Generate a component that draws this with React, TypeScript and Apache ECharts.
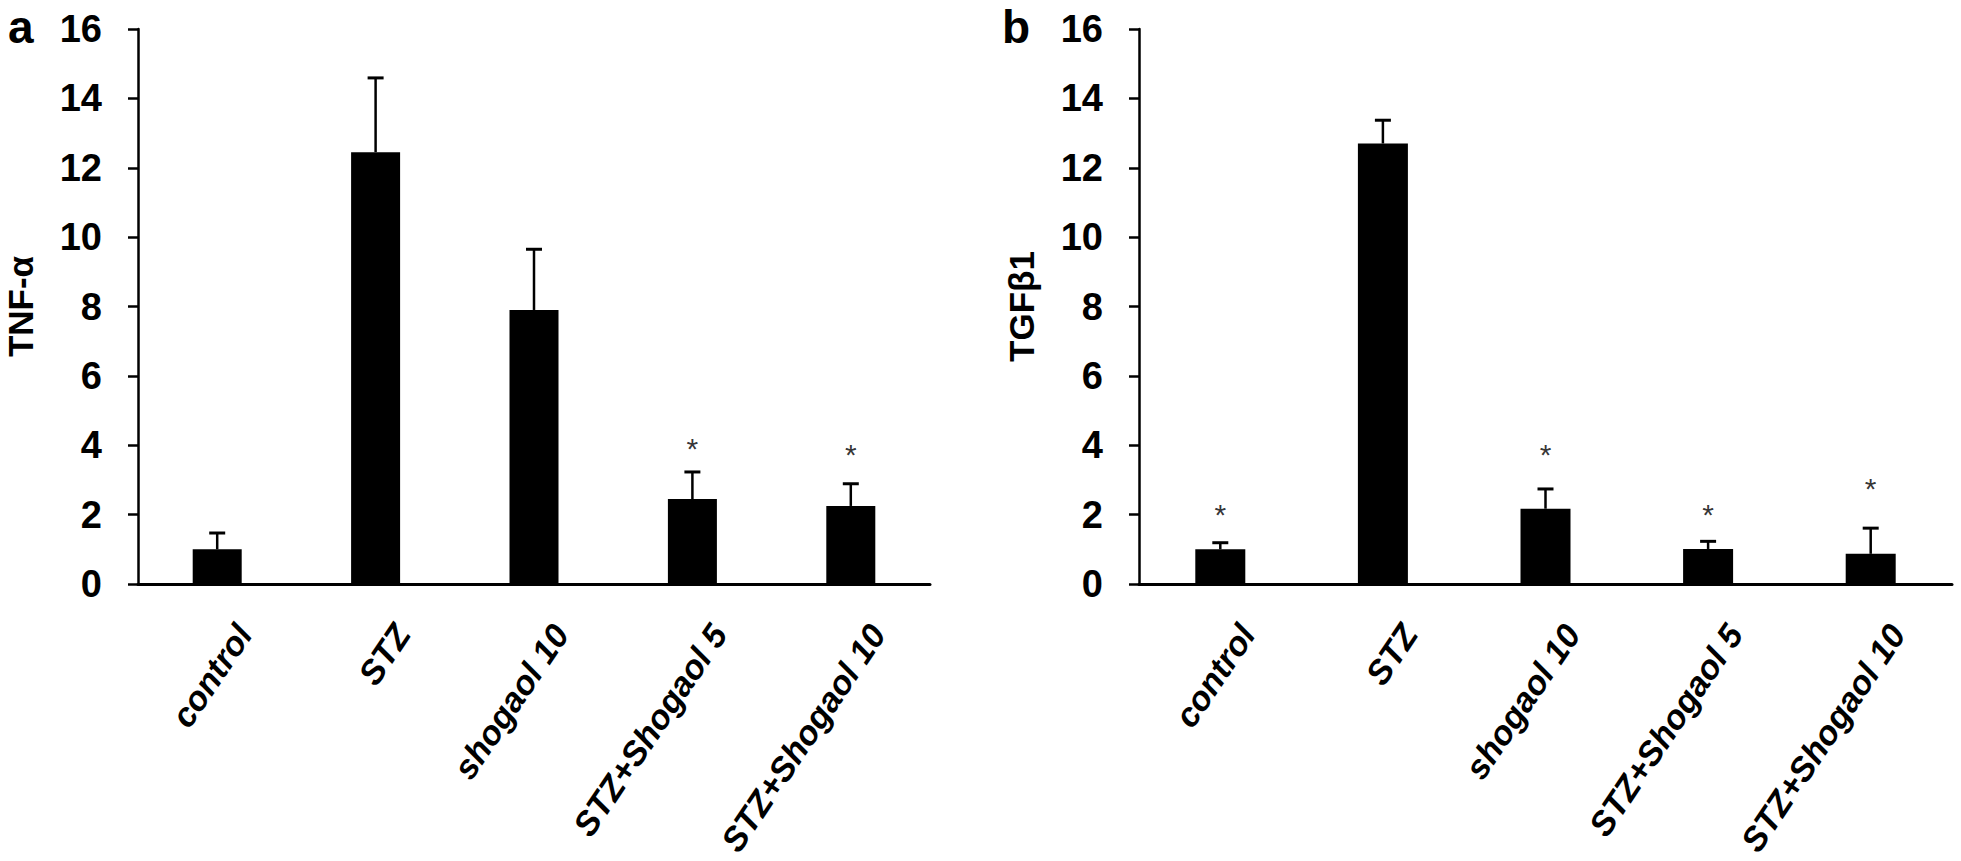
import React, { useEffect, useRef } from "react";
import * as echarts from "echarts";

const categories = ["control", "STZ", "shogaol 10", "STZ+Shogaol 5", "STZ+Shogaol 10"];
const tnfMeans = [1.0, 12.45, 7.9, 2.45, 2.25];
const tnfErrors = [0.47, 2.14, 1.75, 0.78, 0.64];
const tnfStars: (number | null)[] = [null, null, null, 4.06, 3.87];
const tgfMeans = [1.0, 12.7, 2.17, 1.01, 0.87];
const tgfErrors = [0.19, 0.67, 0.57, 0.22, 0.74];
const tgfStars: (number | null)[] = [2.15, null, 3.88, 2.16, 2.9];
const yTicks = { min: 0, max: 16, interval: 2 };

const FONT = "'Liberation Sans', Arial, sans-serif";

export default function App() {
  const ref = useRef<HTMLDivElement>(null);
  useEffect(() => {
    document.body.style.margin = "0";
    const chart = echarts.init(ref.current!, null, { renderer: "svg" });

    const errRender = (params: any, api: any) => {
      const i = api.value(0);
      const m = api.value(1);
      const e = api.value(2);
      const b = api.coord([i, m]);
      const t = api.coord([i, m + e]);
      return {
        type: "group",
        children: [
          { type: "line", shape: { x1: b[0], y1: b[1], x2: t[0], y2: t[1] }, style: { stroke: "#000", lineWidth: 2.5 } },
          { type: "line", shape: { x1: t[0] - 8, y1: t[1], x2: t[0] + 8, y2: t[1] }, style: { stroke: "#000", lineWidth: 3 } },
        ],
      };
    };

    const xAxis = (gi: number) => ({
      type: "category",
      gridIndex: gi,
      data: categories,
      axisLine: { lineStyle: { color: "#000", width: 3 } },
      axisTick: { show: false },
      axisLabel: {
        rotate: 56,
        margin: 26,
        interval: 0,
        align: "right",
        verticalAlign: "top",
        lineHeight: 64,
        color: "#000",
        fontSize: 34,
        fontWeight: "bold",
        fontStyle: "italic",
        fontFamily: FONT,
      },
    });
    const yAxis = (gi: number, name: string) => ({
      type: "value",
      gridIndex: gi,
      ...yTicks,
      name,
      nameLocation: "middle",
      nameRotate: 90,
      nameGap: 100,
      nameTextStyle: { color: "#000", fontSize: 35, fontWeight: "bold", fontFamily: FONT },
      axisLine: { show: true, lineStyle: { color: "#000", width: 2.5 } },
      axisTick: { show: true, length: 10, lineStyle: { color: "#000", width: 2.5 } },
      splitLine: { show: false },
      axisLabel: { color: "#000", fontSize: 38, fontWeight: "bold", fontFamily: FONT, margin: 36 },
    });

    const starSeries = (gi: number, stars: (number | null)[]) => ({
      type: "scatter",
      xAxisIndex: gi,
      yAxisIndex: gi,
      symbolSize: 1,
      itemStyle: { color: "rgba(0,0,0,0)" },
      label: {
        show: true,
        position: "inside",
        formatter: "*",
        color: "#000",
        fontSize: 30,
        fontFamily: FONT,
        offset: [0, 5],
      },
      data: stars.map((s, i) => (s == null ? null : [i, s])).filter((d) => d != null),
    });

    chart.setOption({
      animation: false,
      grid: [
        { left: 138, top: 29, width: 792, height: 555, containLabel: false, outerBoundsMode: "none" },
        { left: 1139, top: 29, width: 813, height: 555, containLabel: false, outerBoundsMode: "none" },
      ],
      xAxis: [xAxis(0), xAxis(1)],
      yAxis: [yAxis(0, "TNF-α"), yAxis(1, "TGFβ1")],
      graphic: [
        { type: "text", left: 8, top: 4, style: { text: "a", font: `bold 46px ${FONT}`, fill: "#000" } },
        { type: "text", left: 1002, top: 4, style: { text: "b", font: `bold 46px ${FONT}`, fill: "#000" } },
      ],
      series: [
        { type: "bar", xAxisIndex: 0, yAxisIndex: 0, barWidth: 49, itemStyle: { color: "#000" }, data: tnfMeans },
        {
          type: "custom",
          xAxisIndex: 0,
          yAxisIndex: 0,
          renderItem: errRender,
          data: tnfMeans.map((m, i) => [i, m, tnfErrors[i]]),
          z: 3,
        },
        starSeries(0, tnfStars),
        { type: "bar", xAxisIndex: 1, yAxisIndex: 1, barWidth: 50, itemStyle: { color: "#000" }, data: tgfMeans },
        {
          type: "custom",
          xAxisIndex: 1,
          yAxisIndex: 1,
          renderItem: errRender,
          data: tgfMeans.map((m, i) => [i, m, tgfErrors[i]]),
          z: 3,
        },
        starSeries(1, tgfStars),
      ],
    });
    return () => chart.dispose();
  }, []);
  return <div ref={ref} style={{ position: "absolute", left: 0, top: 0, width: 1961, height: 861 }} />;
}
